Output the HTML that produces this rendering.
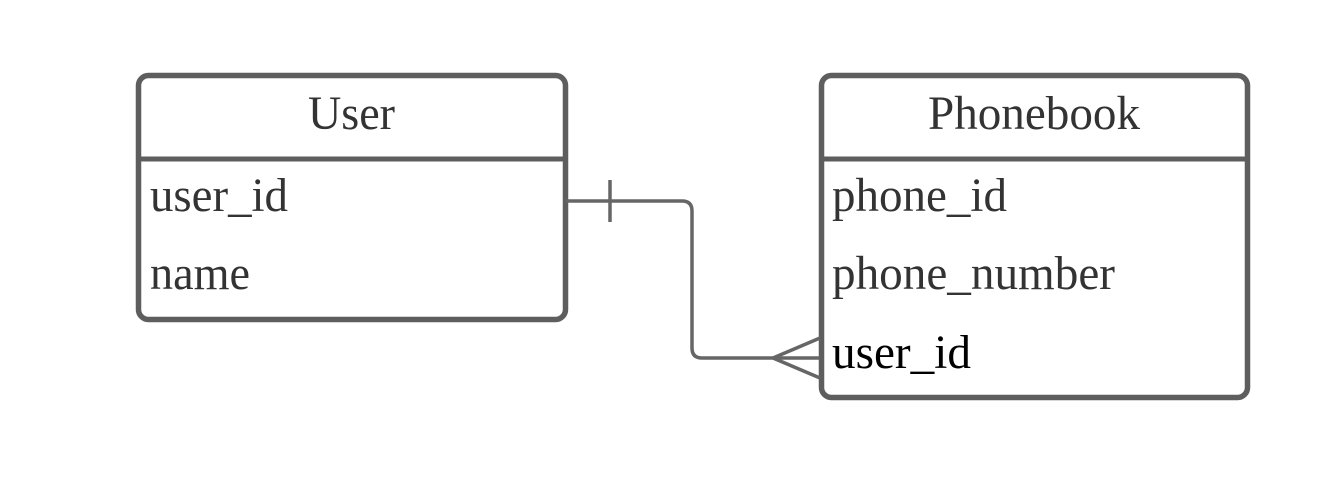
<!DOCTYPE html>
<html><head><meta charset="utf-8"><style>html,body{margin:0;padding:0;background:#fff;}</style></head>
<body>
<svg width="1344" height="484" viewBox="0 0 1344 484" xmlns="http://www.w3.org/2000/svg" font-family="'Liberation Serif', serif" font-size="48">
<rect x="0" y="0" width="1344" height="484" fill="#fff"/>
<rect x="138.5" y="75.5" width="427" height="244" rx="10" fill="#fff" stroke="#5e5e5e" stroke-width="5.5"/>
<line x1="138" y1="159" x2="566" y2="159" stroke="#5e5e5e" stroke-width="5"/>
<rect x="821.5" y="75.5" width="426" height="322" rx="10" fill="#fff" stroke="#5e5e5e" stroke-width="5.5"/>
<line x1="821" y1="159" x2="1248" y2="159" stroke="#5e5e5e" stroke-width="5"/>
<path d="M566 201 H682 Q692 201 692 211 V348 Q692 358 702 358 H820" fill="none" stroke="#666" stroke-width="3.5"/>
<line x1="610" y1="180" x2="610" y2="222" stroke="#666" stroke-width="3.5"/>
<path d="M820 338 L773 358 L820 378" fill="none" stroke="#666" stroke-width="3.5"/>
<g fill="#333">
<text x="308" y="129" textLength="87" lengthAdjust="spacingAndGlyphs">User</text>
<text x="150" y="211" textLength="138" lengthAdjust="spacingAndGlyphs">user_id</text>
<text x="150" y="289" textLength="100" lengthAdjust="spacingAndGlyphs">name</text>
<text x="928" y="129" textLength="212" lengthAdjust="spacingAndGlyphs">Phonebook</text>
<text x="832" y="211" textLength="175" lengthAdjust="spacingAndGlyphs">phone_id</text>
<text x="832" y="289" textLength="283" lengthAdjust="spacingAndGlyphs">phone_number</text>
<text x="832" y="368" textLength="139" lengthAdjust="spacingAndGlyphs" fill="#000">user_id</text>
</g>
</svg>
</body></html>
